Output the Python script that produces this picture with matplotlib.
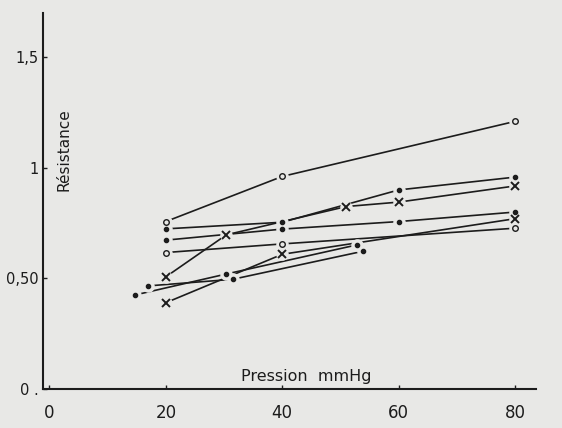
import numpy as np
import matplotlib
matplotlib.use("Agg")
import matplotlib.pyplot as plt

# fond gris du scan
BG = "#e8e8e6"
INK = "#1c1c1c"

# courbes (pression mmHg -> resistance)
p_o1 = [20, 40, 80]
r_o1 = [0.757, 0.961, 1.21]
p_d1 = [20, 40, 60, 80]
r_d1 = [0.724, 0.754, 0.90, 0.958]
p_x1 = [20, 30.4, 51, 60, 80]
r_x1 = [0.507, 0.697, 0.825, 0.845, 0.918]
p_d2 = [20, 40, 60, 80]
r_d2 = [0.673, 0.723, 0.757, 0.80]
p_o2 = [20, 40, 80]
r_o2 = [0.617, 0.656, 0.727]
p_x2 = [20, 40, 80]
r_x2 = [0.39, 0.609, 0.77]
p_d3 = [14.7, 30.4, 52.9]
r_d3 = [0.425, 0.52, 0.652]
p_d4 = [16.9, 31.5, 53.9]
r_d4 = [0.466, 0.496, 0.623]

x_ticks = [0, 20, 40, 60, 80]
x_labels = ["0", "20", "40", "60", "80"]
y_ticks = [0, 0.5, 1, 1.5]
y_labels = ["0 .", "0,50", "1", "1,5"]

series = [(p_o1, r_o1, "o"), (p_d1, r_d1, "."), (p_x1, r_x1, "x"),
          (p_d2, r_d2, "."), (p_o2, r_o2, "o"), (p_x2, r_x2, "x"),
          (p_d3, r_d3, "."), (p_d4, r_d4, ".")]

plt.rcParams["font.family"] = ["DejaVu Sans"]
fig = plt.figure(figsize=(5.62, 4.28), dpi=100, facecolor=BG)
ax = fig.add_axes([43 / 562, 39 / 428, 493 / 562, 376 / 428])
ax.set_facecolor(BG)

for x, y, m in series:
    ax.plot(x, y, color=INK, lw=1.2, zorder=2, solid_capstyle="butt")
# petites coupures du trait autour des points (trace a la main)
for x, y, m in series:
    ax.plot(x, y, ls="none", marker="o", ms=8, mfc=BG, mec=BG, zorder=3)
for x, y, m in series:
    if m == "o":
        ax.plot(x, y, ls="none", marker="o", ms=4, mfc=BG, mec=INK, mew=1.0, zorder=4)
    elif m == "x":
        ax.plot(x, y, ls="none", marker="x", ms=5.5, mec=INK, mew=1.4, zorder=4)
    else:
        ax.plot(x, y, ls="none", marker="o", ms=3, mfc=INK, mec=INK, zorder=4)

# axe trace a la main: le 0 est un peu a gauche de la graduation
ax.set_xlim(-1.1, 83.6)
ax.set_ylim(0, 1.70)
for s in ["top", "right"]:
    ax.spines[s].set_visible(False)
for s in ["left", "bottom"]:
    ax.spines[s].set_linewidth(1.5)
    ax.spines[s].set_color(INK)

ax.set_xticks(x_ticks)
ax.set_xticklabels(x_labels, fontsize=12, color=INK)
ax.set_yticks(y_ticks)
ax.set_yticklabels(y_labels, fontsize=10.5, color=INK)
ax.tick_params(axis="x", direction="in", length=3, width=1, pad=11, colors=INK)
ax.tick_params(axis="y", direction="in", length=3, width=1, pad=3, colors=INK)

fig.text(64 / 562, 1 - 150 / 428, "Résistance", rotation=90, fontsize=11,
         color=INK, ha="center", va="center")
fig.text(306 / 562, 1 - 377 / 428, "Pression  mmHg", fontsize=11.5,
         color=INK, ha="center", va="center")

plt.savefig("out.png", dpi=100, facecolor=BG)
